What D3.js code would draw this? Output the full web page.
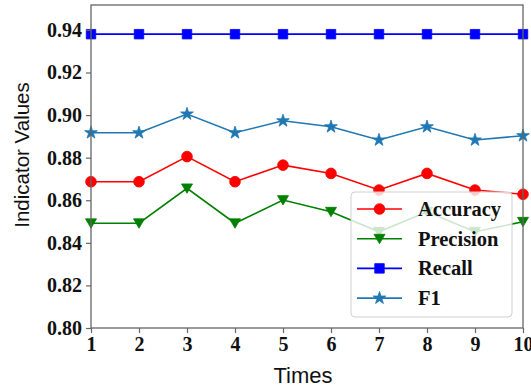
<!DOCTYPE html>
<html><head><meta charset="utf-8">
<script src="https://cdn.jsdelivr.net/npm/d3@7"></script>
<style>body{margin:0;background:#fff}svg{display:block}</style>
</head><body>
<svg id="c" width="531" height="389"></svg>
<script>
const times = [1,2,3,4,5,6,7,8,9,10];
const accuracy  = [0.8687,0.8687,0.8805,0.8687,0.8765,0.8726,0.8648,0.8726,0.8648,0.8628];
const precision = [0.8492,0.8492,0.8656,0.8492,0.8601,0.8546,0.8452,0.8546,0.8452,0.8499];
const recall    = [0.9380,0.9380,0.9380,0.9380,0.9380,0.9380,0.9380,0.9380,0.9380,0.9380];
const f1        = [0.8917,0.8917,0.9005,0.8917,0.8973,0.8945,0.8883,0.8945,0.8883,0.8903];
const yTicks = [0.80,0.82,0.84,0.86,0.88,0.90,0.92,0.94];
const seriesNames = ["Accuracy","Precision","Recall","F1"];

const svg = d3.select("#c");
const L=91, R=523, T=5, B=328;
const x = d3.scaleLinear().domain([1,10]).range([L,R]);
const y = d3.scaleLinear().domain([0.80,0.9517]).range([B,T]);

const series = [
  {name:seriesNames[0], values:accuracy, color:"#ff0000", marker:"circle"},
  {name:seriesNames[1], values:precision, color:"#008000", marker:"tri"},
  {name:seriesNames[2], values:recall, color:"#0000ff", marker:"square"},
  {name:seriesNames[3], values:f1, color:"#1f77b4", marker:"star"}
];

function markerPath(type){
  if(type==="circle") return d3.symbol(d3.symbolCircle, 90)();
  if(type==="square") return d3.symbol(d3.symbolSquare, 90)();
  if(type==="star") return d3.symbol(d3.symbolStar, 50)();
  // downward triangle
  const s=5.5;
  return `M${-s},${-s*0.8}L${s},${-s*0.8}L0,${s*0.9}Z`;
}

const line = d3.line().x((d,i)=>x(times[i])).y(d=>y(d));
const g = svg.append("g");
series.forEach(s=>{
  g.append("path").attr("d", line(s.values)).attr("fill","none")
    .attr("stroke", s.color).attr("stroke-width",1.6);
  g.selectAll(null).data(s.values).enter().append("path")
    .attr("d", markerPath(s.marker))
    .attr("transform",(d,i)=>`translate(${x(times[i])},${y(d)})`)
    .attr("fill", s.color).attr("stroke", s.color).attr("stroke-width",0.8);
});

// frame
svg.append("rect").attr("x",L).attr("y",T).attr("width",R-L).attr("height",B-T)
  .attr("fill","none").attr("stroke","#666").attr("stroke-width",1.3);

// axes
const xa = svg.append("g").attr("transform",`translate(0,${B})`)
  .call(d3.axisBottom(x).tickValues(times).tickFormat(d3.format("d")).tickSize(5).tickPadding(4));
const ya = svg.append("g").attr("transform",`translate(${L},0)`)
  .call(d3.axisLeft(y).tickValues(yTicks).tickFormat(d3.format(".2f")).tickSize(5).tickPadding(4));
[xa,ya].forEach(a=>{
  a.select(".domain").remove();
  a.selectAll(".tick line").attr("stroke","#666").attr("stroke-width",1.2);
  a.selectAll("text").attr("font-family","'Liberation Serif','Times New Roman',serif")
    .attr("font-weight","bold").attr("font-size",20).attr("fill","#111");
});

// axis titles
svg.append("text").attr("x",303).attr("y",383).attr("text-anchor","middle")
  .attr("font-family","'Liberation Sans',Arial,sans-serif").attr("font-size",22).attr("fill","#111").text("Times");
svg.append("text").attr("transform","translate(29,155) rotate(-90)").attr("text-anchor","middle")
  .attr("font-family","'Liberation Sans',Arial,sans-serif").attr("font-size",20.5).attr("fill","#111").text("Indicator Values");

// legend
const lg = svg.append("g");
lg.append("rect").attr("x",351).attr("y",192).attr("width",161).attr("height",125).attr("rx",4)
  .attr("fill","#fff").attr("fill-opacity",0.8).attr("stroke","#d0d0d0").attr("stroke-width",1);
series.forEach((s,i)=>{
  const yy = 209 + i*29.7;
  lg.append("line").attr("x1",357).attr("x2",402).attr("y1",yy).attr("y2",yy)
    .attr("stroke",s.color).attr("stroke-width",1.6);
  lg.append("path").attr("d",markerPath(s.marker)).attr("transform",`translate(379.5,${yy})`)
    .attr("fill",s.color).attr("stroke",s.color).attr("stroke-width",0.8);
  lg.append("text").attr("x",418).attr("y",yy+7).attr("font-family","'Liberation Serif','Times New Roman',serif")
    .attr("font-weight","bold").attr("font-size",20.5).attr("fill","#111").text(s.name);
});
</script>
</body></html>
